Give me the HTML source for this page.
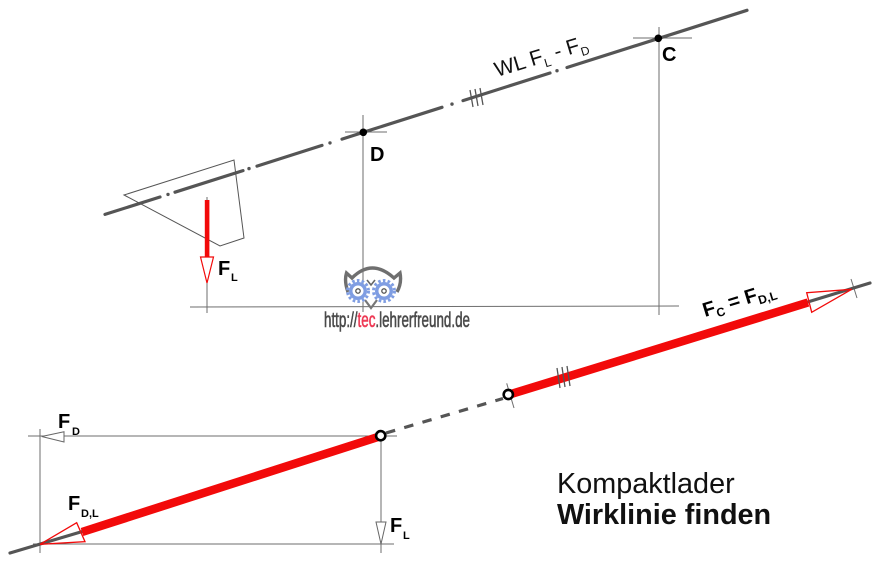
<!DOCTYPE html>
<html>
<head>
<meta charset="utf-8">
<style>
  html,body{margin:0;padding:0;background:#fff;}
  svg{display:block;}
  text{font-family:"Liberation Sans",Arial,sans-serif;}
</style>
</head>
<body>
<svg width="880" height="582" viewBox="0 0 880 582" xmlns="http://www.w3.org/2000/svg">
  <rect width="880" height="582" fill="#fff"/>

  <!-- ===== UPPER PART ===== -->
  <g stroke="#6e6e6e" stroke-width="1" fill="none">
    <line x1="190" y1="307" x2="679" y2="306"/>
    <line x1="207" y1="197" x2="207" y2="313"/>
    <line x1="363" y1="115" x2="363" y2="312"/>
    <line x1="659" y1="27" x2="659" y2="315"/>
    <line x1="345" y1="132" x2="387" y2="132"/>
    <line x1="633" y1="38" x2="692" y2="38"/>
    <polygon points="124,195 234,160 244,238 220,246" stroke="#555" stroke-width="1"/>
  </g>

  <g stroke="#555" stroke-width="3.2" stroke-linecap="round" fill="none">
    <line x1="105" y1="214.4" x2="160" y2="197"/>
    <line x1="175" y1="192.2" x2="243" y2="170.6"/>
    <line x1="257" y1="166.1" x2="322" y2="145.4"/>
    <line x1="342" y1="139.1" x2="442" y2="107.3"/>
    <line x1="463" y1="100.6" x2="550" y2="73"/>
    <line x1="567" y1="67.5" x2="747" y2="10.3"/>
  </g>
  <g fill="#555">
    <circle cx="168" cy="194.4" r="1.7"/>
    <circle cx="249" cy="168.6" r="1.7"/>
    <circle cx="330" cy="142.9" r="1.7"/>
    <circle cx="452" cy="104.1" r="1.7"/>
    <circle cx="557" cy="70.7" r="1.7"/>
  </g>
  <g stroke="#555" stroke-width="1.3">
    <line x1="470" y1="90" x2="473" y2="107"/>
    <line x1="475" y1="89" x2="478" y2="106"/>
    <line x1="480" y1="88" x2="483" y2="105"/>
  </g>

  <circle cx="363.3" cy="132.3" r="3.8" fill="#000"/>
  <circle cx="658.3" cy="38.3" r="3.8" fill="#000"/>
  <text x="370" y="161" font-size="20" font-weight="bold" fill="#000">D</text>
  <text x="662" y="61" font-size="20" font-weight="bold" fill="#000">C</text>

  <text transform="translate(497,77) rotate(-17)" font-size="21" fill="#111">WL F<tspan font-size="12" dy="5">L</tspan><tspan dy="-5"> - F</tspan><tspan font-size="12" dy="5">D</tspan></text>

  <rect x="204.8" y="200" width="4.6" height="57" fill="#f20a0a"/>
  <polygon points="200.5,257 213.5,257 207,283" fill="#fff" stroke="#f20a0a" stroke-width="1.2"/>
  <text x="218" y="275" font-size="20" font-weight="bold" fill="#000">F</text>
  <text x="231" y="281" font-size="11" font-weight="bold" fill="#000">L</text>

  <!-- watermark owl -->
  <g>
    <path d="M348,292 Q344,281 346.5,273 L352,278 Q372,258 394,278 L400,273 Q402,283 397,292" fill="none" stroke="#6f6f6f" stroke-width="3.4"/>
    <path d="M367,280 L371,285 L375,280" fill="none" stroke="#666" stroke-width="1.6"/>
    <path d="M365,300 L371,308 L377,300" fill="none" stroke="#777" stroke-width="2.2"/>
    <g>
      <circle cx="358" cy="291" r="9" fill="#7f9de2"/>
      <circle cx="358" cy="291" r="10.5" fill="none" stroke="#7f9de2" stroke-width="3" stroke-dasharray="2.6 2.2"/>
      <circle cx="358" cy="291" r="5.5" fill="#fff"/>
      <circle cx="358" cy="291" r="2.2" fill="none" stroke="#555" stroke-width="1.3"/>
    </g>
    <g>
      <circle cx="384" cy="291" r="9" fill="#7f9de2"/>
      <circle cx="384" cy="291" r="10.5" fill="none" stroke="#7f9de2" stroke-width="3" stroke-dasharray="2.6 2.2"/>
      <circle cx="384" cy="291" r="5.5" fill="#fff"/>
      <circle cx="384" cy="291" r="2.2" fill="none" stroke="#555" stroke-width="1.3"/>
    </g>
  </g>
  <text x="324" y="327" font-size="21" fill="#4a4a4a" stroke="#4a4a4a" stroke-width="0.6" textLength="146" lengthAdjust="spacingAndGlyphs">http://<tspan fill="#ee3a55" stroke="#ee3a55">tec</tspan>.lehrerfreund.de</text>

  <!-- ===== LOWER PART ===== -->
  <g stroke="#6e6e6e" stroke-width="1" fill="none">
    <line x1="28" y1="436" x2="397" y2="436"/>
    <line x1="33" y1="544" x2="394" y2="544"/>
    <line x1="40" y1="429" x2="40" y2="553"/>
    <line x1="381" y1="436" x2="381" y2="553"/>
    <line x1="506.7" y1="383.3" x2="514" y2="408"/>
    <line x1="851" y1="279" x2="857" y2="298"/>
  </g>

  <line x1="386" y1="433" x2="503" y2="398.5" stroke="#555" stroke-width="3.2" stroke-dasharray="9.5 9.5"/>

  <line x1="10" y1="553" x2="84" y2="531" stroke="#555" stroke-width="3.2" stroke-linecap="round"/>
  <line x1="806" y1="302.5" x2="870" y2="283" stroke="#555" stroke-width="3.2" stroke-linecap="round"/>

  <line x1="381" y1="436" x2="82" y2="532" stroke="#f20a0a" stroke-width="8.5"/>
  <line x1="508" y1="395" x2="808" y2="302.5" stroke="#f20a0a" stroke-width="8.5"/>

  <polygon points="76.7,522.7 85,541.7 40,544.3" fill="none" stroke="#f20a0a" stroke-width="1.3"/>
  <polygon points="806.7,292.7 811.7,312.3 851.7,289.3" fill="none" stroke="#f20a0a" stroke-width="1.3"/>

  <g stroke="#555" stroke-width="1.3">
    <line x1="557" y1="368" x2="560" y2="388"/>
    <line x1="562" y1="367" x2="565" y2="387"/>
    <line x1="567" y1="366" x2="570" y2="386"/>
  </g>

  <circle cx="380.7" cy="435.7" r="4.6" fill="#fff" stroke="#000" stroke-width="2.6"/>
  <circle cx="508.3" cy="394.5" r="4.6" fill="#fff" stroke="#000" stroke-width="2.6"/>

  <polygon points="41.7,436.5 64,431.7 64,442" fill="#fff" stroke="#666" stroke-width="1"/>
  <polygon points="376,522 386,522 381,544" fill="#fff" stroke="#666" stroke-width="1"/>

  <text x="58" y="428" font-size="20" font-weight="bold" fill="#000">F</text>
  <text x="72" y="435" font-size="11" font-weight="bold" fill="#000">D</text>

  <text x="68" y="510" font-size="20" font-weight="bold" fill="#000">F</text>
  <text x="81" y="517" font-size="11" font-weight="bold" fill="#000">D,L</text>

  <text x="390" y="532" font-size="20" font-weight="bold" fill="#000">F</text>
  <text x="403" y="539" font-size="11" font-weight="bold" fill="#000">L</text>

  <text transform="translate(705,317) rotate(-17)" font-size="20" font-weight="bold" fill="#000">F<tspan font-size="12" dy="4">C</tspan><tspan dy="-4"> = F</tspan><tspan font-size="12" dy="4">D,L</tspan></text>

  <text x="557" y="493" font-size="28.8" fill="#111">Kompaktlader</text>
  <text x="557" y="524" font-size="28.8" font-weight="bold" fill="#111">Wirklinie finden</text>
</svg>
</body>
</html>
